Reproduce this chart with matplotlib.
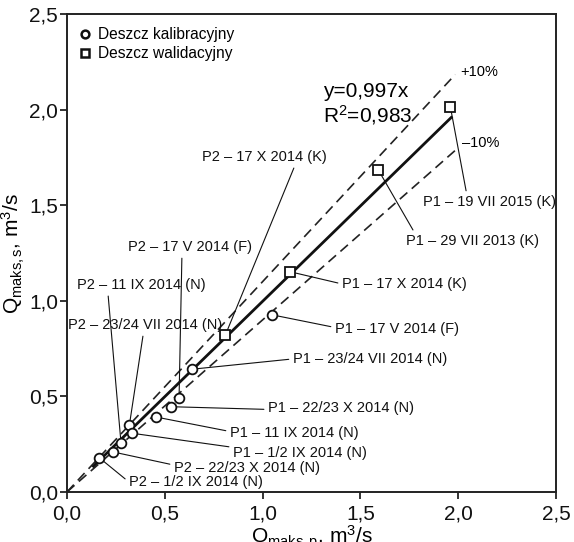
import matplotlib

matplotlib.use("Agg")

import matplotlib.pyplot as plt  # noqa: E402

plt.rcParams["font.family"] = ["Liberation Sans", "DejaVu Sans"]
plt.rcParams["mathtext.fontset"] = "custom"
plt.rcParams["mathtext.rm"] = "Liberation Sans"
plt.rcParams["mathtext.it"] = "Liberation Sans:italic"

# calibration rains (circles): Q_maks,p (observed) vs Q_maks,s (simulated)
kal_p = [0.165, 0.237, 0.276, 0.319, 0.334, 0.455, 0.532, 0.573, 0.639, 1.046]
kal_s = [0.179, 0.209, 0.258, 0.350, 0.307, 0.392, 0.446, 0.493, 0.642, 0.927]
kal_names = [
    "P2 – 1/2 IX 2014 (N)",
    "P2 – 22/23 X 2014 (N)",
    "P2 – 11 IX 2014 (N)",
    "P2 – 23/24 VII 2014 (N)",
    "P1 – 1/2 IX 2014 (N)",
    "P1 – 11 IX 2014 (N)",
    "P1 – 22/23 X 2014 (N)",
    "P2 – 17 V 2014 (F)",
    "P1 – 23/24 VII 2014 (N)",
    "P1 – 17 V 2014 (F)",
]

# validation rains (squares)
wal_p = [0.809, 1.140, 1.592, 1.960]
wal_s = [0.819, 1.152, 1.684, 2.015]
wal_names = [
    "P2 – 17 X 2014 (K)",
    "P1 – 17 X 2014 (K)",
    "P1 – 29 VII 2013 (K)",
    "P1 – 19 VII 2015 (K)",
]

slope = 0.997
fit_range = [0.13, 1.97]
band = 0.10
band_range = [0.0, 1.985]

ticks = [0.0, 0.5, 1.0, 1.5, 2.0, 2.5]
tick_labels = ["0,0", "0,5", "1,0", "1,5", "2,0", "2,5"]

# label placement: text left/centre (data units) and where the leader leaves the text box
label_layout = {
    "P2 – 17 X 2014 (K)": (0.690, 1.752, 0.75, 0.0),
    "P2 – 17 V 2014 (F)": (0.312, 1.281, 0.435, 0.0),
    "P2 – 11 IX 2014 (N)": (0.051, 1.083, 0.24, 0.0),
    "P2 – 23/24 VII 2014 (N)": (0.005, 0.873, 0.49, 0.0),
    "P1 – 17 X 2014 (K)": (1.406, 1.088, 0.0, 0.5),
    "P1 – 17 V 2014 (F)": (1.370, 0.853, 0.0, 0.6),
    "P1 – 23/24 VII 2014 (N)": (1.155, 0.696, 0.0, 0.5),
    "P1 – 22/23 X 2014 (N)": (1.028, 0.439, 0.0, 0.4),
    "P1 – 11 IX 2014 (N)": (0.833, 0.309, 0.0, 0.6),
    "P1 – 1/2 IX 2014 (N)": (0.849, 0.204, 0.0, 0.9),
    "P2 – 22/23 X 2014 (N)": (0.547, 0.126, 0.0, 0.7),
    "P2 – 1/2 IX 2014 (N)": (0.317, 0.052, 0.0, 0.5),
    "P1 – 29 VII 2013 (K)": (1.733, 1.313, 0.07, 1.0),
    "P1 – 19 VII 2015 (K)": (1.820, 1.517, 0.33, 1.0),
}

fig = plt.figure(figsize=(5.74, 5.42), dpi=100)
ax = fig.add_axes([0.1167, 0.0923, 0.8519, 0.8819])

for sign in (1, -1):
    k = 1 + sign * band
    ax.plot(band_range, [k * x for x in band_range], color="#222222", lw=1.2,
            dashes=(6, 3.5), zorder=2)
ax.plot(fit_range, [slope * x for x in fit_range], color="#111111", lw=2.0,
        solid_capstyle="butt", zorder=3)

for xs, ys, names in ((kal_p, kal_s, kal_names), (wal_p, wal_s, wal_names)):
    for x, y, name in zip(xs, ys, names):
        tx, ty, rx, ry = label_layout[name]
        ax.annotate(
            name, xy=(x, y), xytext=(tx, ty), textcoords="data",
            ha="left", va="center", fontsize=10.5, color="#111111",
            arrowprops=dict(arrowstyle="-", lw=0.8, color="#111111",
                            relpos=(rx, ry), shrinkA=1, shrinkB=3.2),
            zorder=4,
        )

h_kal, = ax.plot(kal_p, kal_s, "o", ms=7, mfc="white", mec="#111111", mew=1.3,
                 zorder=5, label="Deszcz kalibracyjny")
h_wal, = ax.plot(wal_p, wal_s, "s", ms=6.5, mfc="white", mec="#111111", mew=1.3,
                 zorder=5, label="Deszcz walidacyjny")

ax.text(1.309, 2.092, "y=0,997x", fontsize=15, va="center", ha="left")
ax.text(1.309, 1.972, "R$^2$=0,983", fontsize=15, va="center", ha="left")
ax.text(2.009, 2.197, "+10%", fontsize=10.5, va="center", ha="left")
ax.text(2.019, 1.825, "–10%", fontsize=10.5, va="center", ha="left")

leg = ax.legend(handles=[h_kal, h_wal], loc="upper left", frameon=False,
                fontsize=11.2, markerscale=0.8, handlelength=0.6,
                handletextpad=0.55, labelspacing=0.25, borderaxespad=0.55,
                borderpad=0.3)
for h in leg.legend_handles:
    h.set_markeredgewidth(1.8)

ax.set_xlim(0, 2.5)
ax.set_ylim(0, 2.5)
ax.set_xticks(ticks)
ax.set_xticklabels(tick_labels)
ax.set_yticks(ticks)
ax.set_yticklabels(tick_labels)
ax.tick_params(direction="out", length=5, width=1.2, labelsize=15, colors="#111111")
ax.tick_params(axis="y", pad=1.5)
ax.tick_params(axis="x", pad=4)
for sp in ax.spines.values():
    sp.set_linewidth(1.4)
    sp.set_color("#222222")

fig.text(0.023, 0.533, r"Q$_{\mathrm{maks,s}}$, m$^3$/s", rotation=90,
         ha="center", va="center", fontsize=15)
fig.text(0.544, -0.003, r"Q$_{\mathrm{maks,p}}$, m$^3$/s",
         ha="center", va="baseline", fontsize=15)

fig.savefig("out.png")
plt.close(fig)
